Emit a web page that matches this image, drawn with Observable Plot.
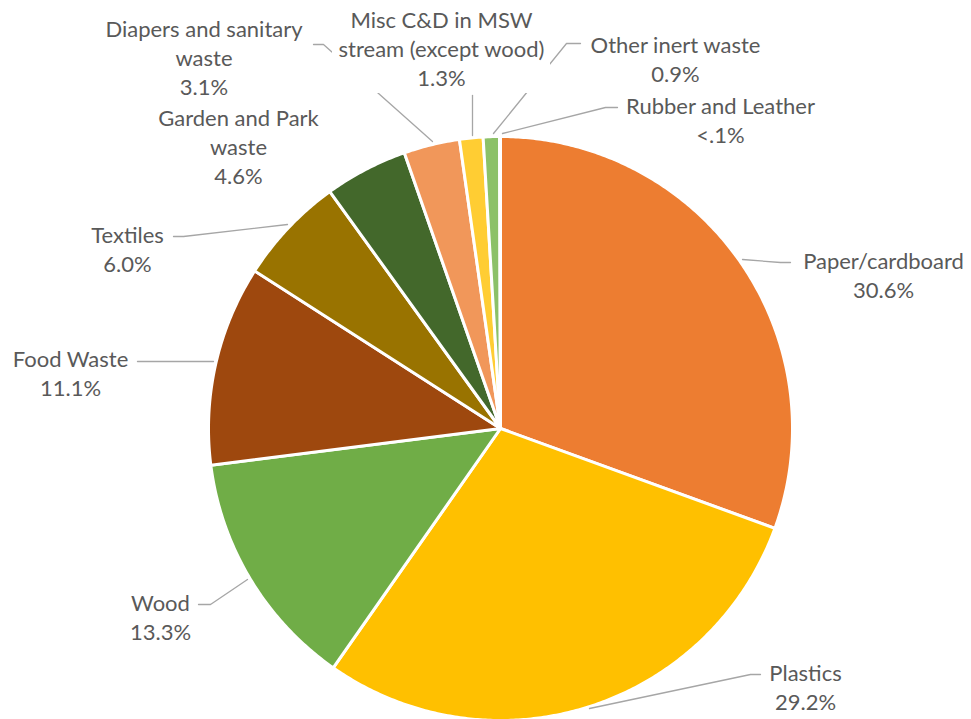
<!DOCTYPE html>
<html>
<head>
<meta charset="utf-8">
<script src="https://cdn.jsdelivr.net/npm/d3@7"></script>
<script src="https://cdn.jsdelivr.net/npm/@observablehq/plot@0.6"></script>
<style>
  html, body { margin: 0; padding: 0; background: #ffffff; }
  #chart { width: 971px; height: 719px; }
</style>
</head>
<body>
<div id="chart"></div>
<script>
// ---- data ----
const categories = [
  "Paper/cardboard", "Plastics", "Wood", "Food Waste", "Textiles",
  "Garden and Park waste", "Diapers and sanitary waste",
  "Misc C&D in MSW stream (except wood)", "Other inert waste", "Rubber and Leather"
];
const values = [30.6, 29.2, 13.3, 11.1, 6.0, 4.6, 3.1, 1.3, 0.9, 0.05];
const pctLabels = ["30.6%", "29.2%", "13.3%", "11.1%", "6.0%", "4.6%", "3.1%", "1.3%", "0.9%", "<.1%"];
const labelLines = [
  "Paper/cardboard", "Plastics", "Wood", "Food Waste", "Textiles",
  "Garden and Park\nwaste", "Diapers and sanitary\nwaste",
  "Misc C&D in MSW\nstream (except wood)", "Other inert waste", "Rubber and Leather"
];
const colors = ["#ED7D31", "#FFC000", "#70AD47", "#9E480E", "#997300",
                "#43682B", "#F1975A", "#FFCD33", "#8CC168", "#C55A11"];

// ---- layout (pixel space) ----
const W = 971, H = 719;
const cx = 500, cy = 428, R = 292;
const labelX = [883, 805, 160, 70, 127, 238, 203.5, 441, 675, 720];
const labelY = [273.5, 686, 616, 371.5, 248, 145.5, 56, 47, 57.5, 119];
const leaders = [
  [[742, 259], [780, 262], [790, 262]],
  [[589, 708], [750, 674], [760, 674]],
  [[247, 579], [210, 604], [198, 604]],
  [[213, 361], [137, 361]],
  [[287, 224], [183, 236], [173, 236]],
  null,
  [[432, 141], [323, 44], [313, 44]],
  [[472, 135], [472, 95]],
  [[493, 133], [566, 43], [580, 43]],
  [[502, 133], [605, 107], [617, 107]]
];
// label box of the Misc C&D label hides leader lines behind it
const maskBox = {x1: 332, x2: 550, y1: 5, y2: 93};

// ---- slices ----
const arcs = d3.pie().sort(null).value(d => d)(values);
const slicePts = [];
arcs.forEach((a, i) => {
  const name = categories[i];
  slicePts.push({name, x: cx, y: cy});
  const n = Math.max(2, Math.ceil((a.endAngle - a.startAngle) / (Math.PI / 360)));
  for (let k = 0; k <= n; k++) {
    const t = a.startAngle + (a.endAngle - a.startAngle) * k / n;
    slicePts.push({name, x: cx + R * Math.sin(t), y: cy - R * Math.cos(t)});
  }
});

const leaderPts = [];
leaders.forEach((l, i) => {
  if (!l) return;
  l.forEach(p => leaderPts.push({name: categories[i], x: p[0], y: p[1]}));
});

const labels = categories.map((c, i) => ({
  name: c,
  text: labelLines[i] + "\n" + pctLabels[i],
  x: labelX[i],
  y: labelY[i]
}));

const chart = Plot.plot({
  width: W,
  height: H,
  margin: 0,
  x: {domain: [0, W], range: [0, W], axis: null},
  y: {domain: [0, H], range: [0, H], axis: null},
  color: {domain: categories, range: colors},
  style: {background: "#ffffff", fontFamily: "Lato, 'Open Sans', sans-serif"},
  marks: [
    Plot.line(slicePts, {
      x: "x", y: "y", z: "name", fill: "name",
      stroke: "#ffffff", strokeWidth: 3, strokeLinejoin: "round",
      curve: "linear-closed"
    }),
    Plot.line(leaderPts, {
      x: "x", y: "y", z: "name",
      stroke: "#A6A6A6", strokeWidth: 1.3, curve: "linear"
    }),
    Plot.rect([maskBox], {x1: "x1", x2: "x2", y1: "y1", y2: "y2", fill: "#ffffff"}),
    Plot.text(labels, {
      x: "x", y: "y", text: "text",
      fill: "#595959", fontSize: 22, lineHeight: 1.32,
      lineAnchor: "middle", textAnchor: "middle"
    })
  ]
});
document.getElementById("chart").appendChild(chart);
</script>
</body>
</html>
